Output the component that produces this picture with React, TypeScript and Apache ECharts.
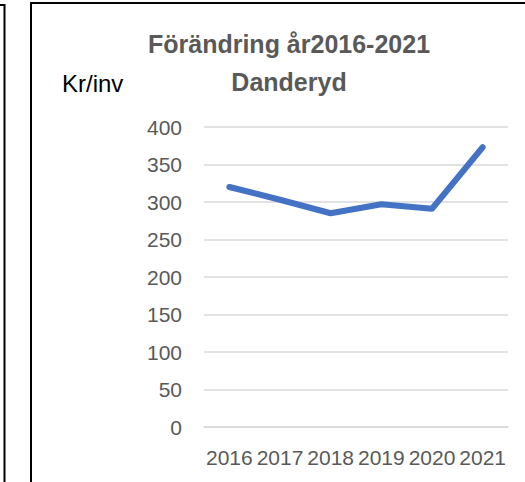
import React, { useEffect, useRef } from "react";
import * as echarts from "echarts";

const titleLines = ["Förändring år2016-2021", "Danderyd"];
const unitLabel = "Kr/inv";
const years = ["2016", "2017", "2018", "2019", "2020", "2021"];
const values = [320, 303, 285, 297, 291, 373];
const yTicks = { min: 0, max: 400, interval: 50 };

export default function App() {
  const ref = useRef<HTMLDivElement>(null);
  useEffect(() => {
    if (!ref.current) return;
    const chart = echarts.init(ref.current, null, { renderer: "svg" });
    const font = "'Liberation Sans', Arial, sans-serif";
    chart.setOption({
      animation: false,
      backgroundColor: "#ffffff",
      title: {
        text: titleLines.join("\n"),
        left: 284,
        textAlign: "center",
        top: 20,
        textStyle: {
          fontFamily: font,
          fontWeight: "bold",
          fontSize: 25,
          color: "#595959",
          lineHeight: 38,
        },
      },
      grid: { left: 204, right: 17, top: 127, bottom: 55, containLabel: false },
      xAxis: {
        type: "category",
        data: years,
        boundaryGap: true,
        axisLine: { show: true, lineStyle: { color: "#d9d9d9", width: 1.5 } },
        axisTick: { show: false },
        axisLabel: {
          interval: 0,
          margin: 20,
          fontFamily: font,
          fontSize: 21,
          color: "#595959",
        },
      },
      yAxis: {
        type: "value",
        min: yTicks.min,
        max: yTicks.max,
        interval: yTicks.interval,
        axisLine: { show: false },
        axisTick: { show: false },
        splitLine: { lineStyle: { color: "#d9d9d9", width: 1.5 } },
        axisLabel: {
          margin: 22,
          fontFamily: font,
          fontSize: 21,
          color: "#595959",
        },
      },
      series: [
        {
          type: "line",
          data: values,
          symbol: "none",
          lineStyle: { color: "#4472C4", width: 6, cap: "round", join: "round" },
        },
      ],
      graphic: [
        {
          type: "text",
          left: 62,
          top: 71,
          style: {
            text: unitLabel,
            fontFamily: font,
            fontSize: 24,
            fill: "#000000",
          },
        },
        {
          type: "rect",
          shape: { x: 31, y: 3, width: 700, height: 700 },
          style: { fill: "none", stroke: "#000000", lineWidth: 2 },
          silent: true,
        },
        {
          type: "polyline",
          shape: { points: [[0, 5], [4.5, 5], [4.5, 600]] },
          style: { fill: "none", stroke: "#000000", lineWidth: 2 },
          silent: true,
        },
      ],
    });
    return () => chart.dispose();
  }, []);
  return (
    <div
      ref={ref}
      style={{ position: "fixed", left: 0, top: 0, width: 525, height: 482 }}
    />
  );
}
